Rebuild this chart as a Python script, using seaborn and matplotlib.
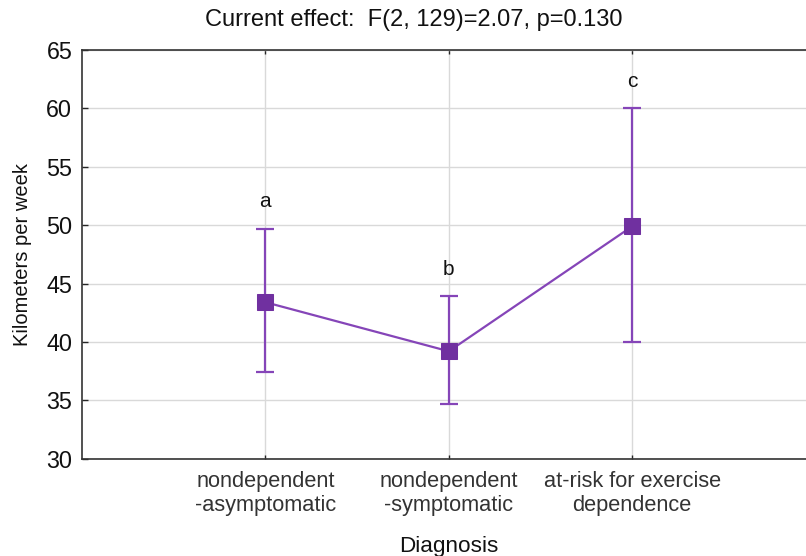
import numpy as np
import pandas as pd
import matplotlib
matplotlib.use("Agg")
import matplotlib.pyplot as plt
import seaborn as sns

categories = ["nondependent\n-asymptomatic", "nondependent\n-symptomatic", "at-risk for exercise\ndependence"]
means = [43.4, 39.2, 49.9]
lower = [37.4, 34.65, 40.0]
upper = [49.7, 43.9, 60.0]
letters = ["a", "b", "c"]
yticks = [30, 35, 40, 45, 50, 55, 60, 65]

sns.set_theme(style="white")
plt.rcParams['font.family'] = ['Liberation Sans', 'DejaVu Sans']

fig = plt.figure(figsize=(8.06, 5.56), dpi=100)
ax = fig.add_axes([82/806, 1 - 458.7/556, (815.6 - 82)/806, (458.7 - 50)/556])

df = pd.DataFrame({"Diagnosis": categories, "km": means})
purple = "#7030A0"
line_col = "#8545B8"
x = np.arange(len(categories))

ax.errorbar(x, means, yerr=[np.array(means) - np.array(lower), np.array(upper) - np.array(means)],
            fmt="none", ecolor=line_col, elinewidth=1.6, capsize=6.5, capthick=1.6, zorder=3)
sns.lineplot(data=df, x="Diagnosis", y="km", ax=ax, color=line_col, linewidth=1.6,
             marker="s", markersize=11, markerfacecolor=purple, markeredgecolor=purple,
             sort=False, zorder=4)

for xi, up, lt in zip(x, upper, letters):
    ax.annotate(lt, (xi, up), xytext=(0, 15.5), textcoords="offset points",
                ha="center", va="baseline", fontsize=15, color="#111111")

ax.set_xlim(-1, 3)
ax.set_ylim(30, 65)
ax.set_yticks(yticks)
ax.set_xticks(x)
ax.set_xticklabels(categories, fontsize=15.7, color="#333333")
ax.tick_params(axis="y", labelsize=16.8, labelcolor="#111111", direction="in", length=4, width=1, left=True, pad=7)
ax.tick_params(axis="x", direction="in", length=3, width=1, top=True, bottom=True, pad=9)
ax.grid(True, color="#d9d9d9", linewidth=1)
for s in ["left", "bottom", "top", "right"]:
    ax.spines[s].set_color("#333333")
    ax.spines[s].set_linewidth(1.2)

ax.set_xlabel("Diagnosis", fontsize=16.2, color="#111111")
ax.xaxis.set_label_coords(0.5, -0.19)
ax.set_ylabel("Kilometers per week", fontsize=14.5, color="#111111")
ax.yaxis.set_label_coords((32 - 82) / 733.6, 0.5)
fig.text(414/806, 1 - 20/556, "Current effect:  F(2, 129)=2.07, p=0.130",
         ha="center", va="center", fontsize=17, color="#111111")

fig.savefig("out.png", dpi=100)
